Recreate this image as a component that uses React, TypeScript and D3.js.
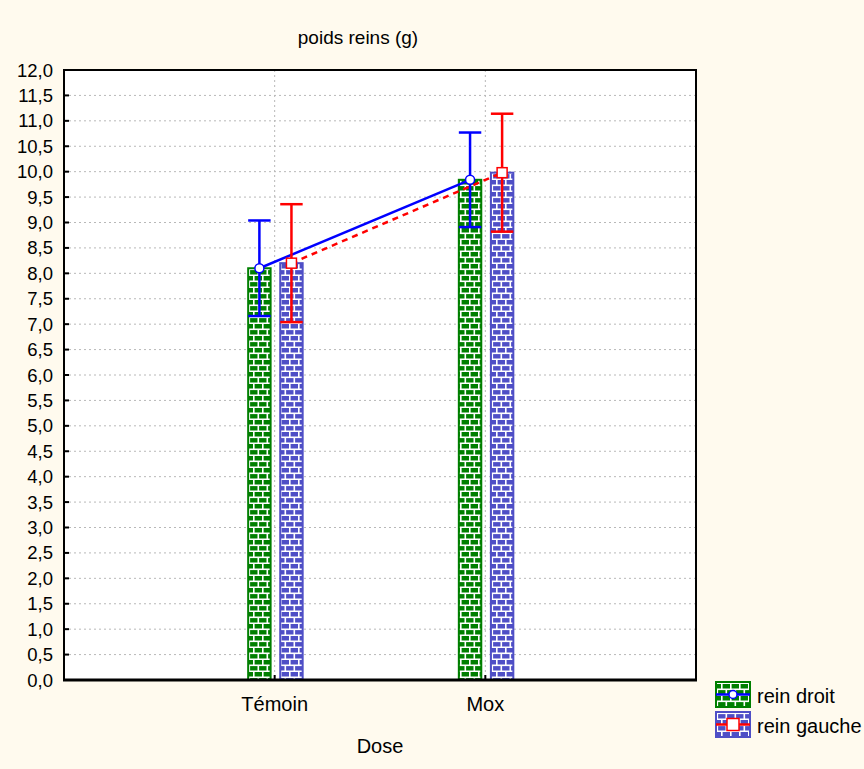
import React from "react";
import * as d3 from "d3";

const categories = ["Témoin", "Mox"];
const series = ["rein droit", "rein gauche"];
const droitMean = [8.1, 9.84];
const droitErr = [0.94, 0.93];
const gaucheMean = [8.2, 9.98];
const gaucheErr = [1.16, 1.16];
const yTicks = d3.range(0, 12.01, 0.5);

const W = 864, H = 769;
const M = { left: 64, right: 696, top: 70, bottom: 680 };
const FONT = "'Liberation Sans', Arial, sans-serif";

export default function App() {
  const x = d3.scalePoint<string>().domain(categories).range([M.left, M.right]).padding(1);
  const y = d3.scaleLinear().domain([0, 12]).range([M.bottom, M.top]);
  const sub = d3.scaleBand<string>().domain(series).range([-26.5, 28]).paddingInner(0.3);
  const bw = sub.bandwidth();

  const data = [
    { key: series[0], mean: droitMean, err: droitErr, fill: "url(#brickG)", base: "#007f00", col: "#0000ff", dash: undefined as string | undefined, marker: "circle" },
    { key: series[1], mean: gaucheMean, err: gaucheErr, fill: "url(#brickB)", base: "#4f4fc6", col: "#ff0000", dash: "6,5", marker: "square" },
  ];

  const fmt = (v: number) => v.toFixed(1).replace(".", ",");
  const line = d3.line<[number, number]>().x(d => d[0]).y(d => d[1]);

  return (
    <svg width={W} height={H} style={{ position: "absolute", left: 0, top: 0 }} fontFamily={FONT}>
      <defs>
        {[["brickG", "#007f00"], ["brickB", "#4f4fc6"]].map(([id, c]) => (
          <pattern key={id} id={id} patternUnits="userSpaceOnUse" width={9} height={12}>
            <rect width={9} height={12} fill={c} />
            <rect x={0} y={4.5} width={9} height={1.6} fill="#fff" />
            <rect x={0} y={10.5} width={9} height={1.6} fill="#fff" />
            <rect x={1} y={0} width={1.6} height={5} fill="#fff" />
            <rect x={5.5} y={6} width={1.6} height={5} fill="#fff" />
          </pattern>
        ))}
      </defs>
      <rect width={W} height={H} fill="#fffaee" />
      <rect x={M.left} y={M.top} width={M.right - M.left} height={M.bottom - M.top} fill="#ffffff" />
      {/* grid */}
      {yTicks.filter(t => t > 0 && t < 12).map(t => (
        <line key={t} x1={M.left} x2={M.right} y1={y(t)} y2={y(t)} stroke="#b8b8b8" strokeWidth={1} strokeDasharray="2,3" />
      ))}
      {categories.map(c => (
        <line key={c} x1={x(c)} x2={x(c)} y1={M.top} y2={M.bottom} stroke="#b8b8b8" strokeWidth={1} strokeDasharray="2,3" />
      ))}
      {/* bars */}
      {data.map(s => categories.map((c, i) => {
        const x0 = (x(c) as number) + (sub(s.key) as number);
        return (
          <rect key={s.key + c} x={x0} y={y(s.mean[i])} width={bw} height={y(0) - y(s.mean[i])}
            fill={s.fill} stroke={s.base} strokeWidth={2} />
        );
      }))}
      {/* lines */}
      {data.map(s => {
        const pts: [number, number][] = categories.map((c, i) => [(x(c) as number) + (sub(s.key) as number) + bw / 2, y(s.mean[i])]);
        return <path key={s.key} d={line(pts) || ""} fill="none" stroke={s.col} strokeWidth={2.5} strokeDasharray={s.dash} />;
      })}
      {/* error bars */}
      {data.map(s => categories.map((c, i) => {
        const cx = (x(c) as number) + (sub(s.key) as number) + bw / 2;
        const hi = y(s.mean[i] + s.err[i]);
        const lo = y(s.mean[i] - s.err[i]);
        return (
          <g key={s.key + c} stroke={s.col} strokeWidth={2.5}>
            <line x1={cx} x2={cx} y1={hi} y2={lo} />
            <line x1={cx - bw / 2} x2={cx + bw / 2} y1={hi} y2={hi} />
            <line x1={cx - bw / 2} x2={cx + bw / 2} y1={lo} y2={lo} />
          </g>
        );
      }))}
      {/* markers */}
      {data.map(s => categories.map((c, i) => {
        const cx = (x(c) as number) + (sub(s.key) as number) + bw / 2;
        const cy = y(s.mean[i]);
        return s.marker === "circle"
          ? <circle key={s.key + c} cx={cx} cy={cy} r={4.5} fill="#fff" stroke={s.col} strokeWidth={1.5} />
          : <rect key={s.key + c} x={cx - 5} y={cy - 5} width={10} height={10} fill="#fff" stroke={s.col} strokeWidth={1.5} />;
      }))}
      {/* frame */}
      <rect x={M.left} y={M.top} width={M.right - M.left} height={M.bottom - M.top} fill="none" stroke="#000" strokeWidth={2} />
      <line x1={M.left - 1} x2={M.right + 1} y1={M.bottom} y2={M.bottom} stroke="#000" strokeWidth={3} />
      {/* y ticks */}
      {yTicks.map(t => (
        <g key={t}>
          <line x1={M.left} x2={M.left + 5} y1={y(t)} y2={y(t)} stroke="#000" strokeWidth={2} />
          <text x={53} y={y(t) + 6.5} textAnchor="end" fontSize={18.5} fill="#000">{fmt(t)}</text>
        </g>
      ))}
      {/* x ticks */}
      {categories.map(c => (
        <g key={c}>
          <line x1={x(c)} x2={x(c)} y1={M.bottom} y2={M.bottom - 5} stroke="#000" strokeWidth={2} />
          <text x={x(c)} y={711} textAnchor="middle" fontSize={20} fill="#000">{c}</text>
        </g>
      ))}
      <text x={(M.left + M.right) / 2} y={753} textAnchor="middle" fontSize={20} fill="#000">Dose</text>
      <text x={358} y={44} textAnchor="middle" fontSize={19} fill="#000">poids reins (g)</text>
      {/* legend */}
      {data.map((s, i) => {
        const ly = 682 + i * 30;
        return (
          <g key={s.key}>
            <rect x={716} y={ly} width={34} height={25} fill={s.fill} stroke={s.base} strokeWidth={2} />
            <line x1={716} x2={750} y1={ly + 12.5} y2={ly + 12.5} stroke={s.col} strokeWidth={2.5} />
            {s.marker === "circle"
              ? <circle cx={733} cy={ly + 12.5} r={4} fill="#fff" stroke={s.col} strokeWidth={1.5} />
              : <rect x={727} y={ly + 6.5} width={12} height={12} fill="#fff" stroke={s.col} strokeWidth={1.5} />}
            <text x={757} y={ly + 21} fontSize={20} fill="#000">{s.key}</text>
          </g>
        );
      })}
    </svg>
  );
}
